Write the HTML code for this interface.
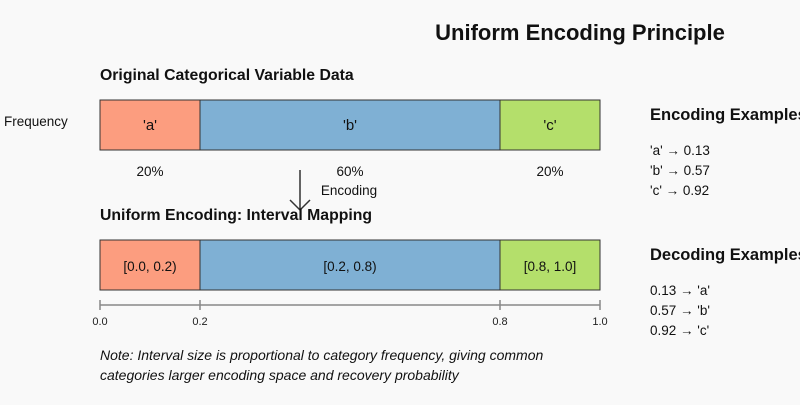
<!DOCTYPE html>
<html><head><style>body{margin:0;background:#f9f9f9}</style></head><body>
<svg width="800" height="400" xmlns="http://www.w3.org/2000/svg" font-family="Liberation Sans, sans-serif">
<rect width="800" height="400" fill="#f9f9f9"/>
<text x="580" y="40" font-size="22" font-weight="bold" text-anchor="middle" fill="#111">Uniform Encoding Principle</text>
<text x="100" y="80" font-size="15.8" font-weight="bold" fill="#111">Original Categorical Variable Data</text>
<text x="4" y="126" font-size="13.5" fill="#111">Frequency</text>
<g stroke="#333" stroke-width="1">
<rect x="100" y="100" width="100" height="50" fill="#fc9d7f"/>
<rect x="200" y="100" width="300" height="50" fill="#7fb0d4"/>
<rect x="500" y="100" width="100" height="50" fill="#b4df6b"/>
<rect x="100" y="240" width="100" height="50" fill="#fc9d7f"/>
<rect x="200" y="240" width="300" height="50" fill="#7fb0d4"/>
<rect x="500" y="240" width="100" height="50" fill="#b4df6b"/>
</g>
<g font-size="15" text-anchor="middle" fill="#111">
<text x="150" y="130">'a'</text><text x="350" y="130">'b'</text><text x="550" y="130">'c'</text>
</g>
<g font-size="13.5" text-anchor="middle" fill="#111">
<text x="150" y="176">20%</text><text x="350" y="176">60%</text><text x="550" y="176">20%</text>
<text x="349" y="195">Encoding</text>
<text x="150" y="271">[0.0, 0.2)</text><text x="350" y="271">[0.2, 0.8)</text><text x="550" y="271">[0.8, 1.0]</text>
</g>
<g stroke="#333" stroke-width="1.5" fill="none">
<line x1="300" y1="170" x2="300" y2="210"/>
<polyline points="290,200 300,210 310,200"/>
</g>
<text x="100" y="220" font-size="15.8" font-weight="bold" fill="#111">Uniform Encoding: Interval Mapping</text>
<g stroke="#888" stroke-width="1.5">
<line x1="100" y1="305" x2="600" y2="305"/>
<line x1="100" y1="300" x2="100" y2="310"/><line x1="200" y1="300" x2="200" y2="310"/>
<line x1="500" y1="300" x2="500" y2="310"/><line x1="600" y1="300" x2="600" y2="310"/>
</g>
<g font-size="11" text-anchor="middle" fill="#222">
<text x="100" y="325">0.0</text><text x="200" y="325">0.2</text><text x="500" y="325">0.8</text><text x="600" y="325">1.0</text>
</g>
<g fill="#111">
<text x="650" y="120" font-size="16.5" font-weight="bold">Encoding Examples</text>
<text x="650" y="155" font-size="13.5">'a' → 0.13</text>
<text x="650" y="175" font-size="13.5">'b' → 0.57</text>
<text x="650" y="195" font-size="13.5">'c' → 0.92</text>
<text x="650" y="260" font-size="16.5" font-weight="bold">Decoding Examples</text>
<text x="650" y="295" font-size="13.5">0.13 → 'a'</text>
<text x="650" y="315" font-size="13.5">0.57 → 'b'</text>
<text x="650" y="335" font-size="13.5">0.92 → 'c'</text>
</g>
<g font-size="14" font-style="italic" fill="#111">
<text x="100" y="360">Note: Interval size is proportional to category frequency, giving common</text>
<text x="100" y="380">categories larger encoding space and recovery probability</text>
</g>
</svg>
</body></html>
